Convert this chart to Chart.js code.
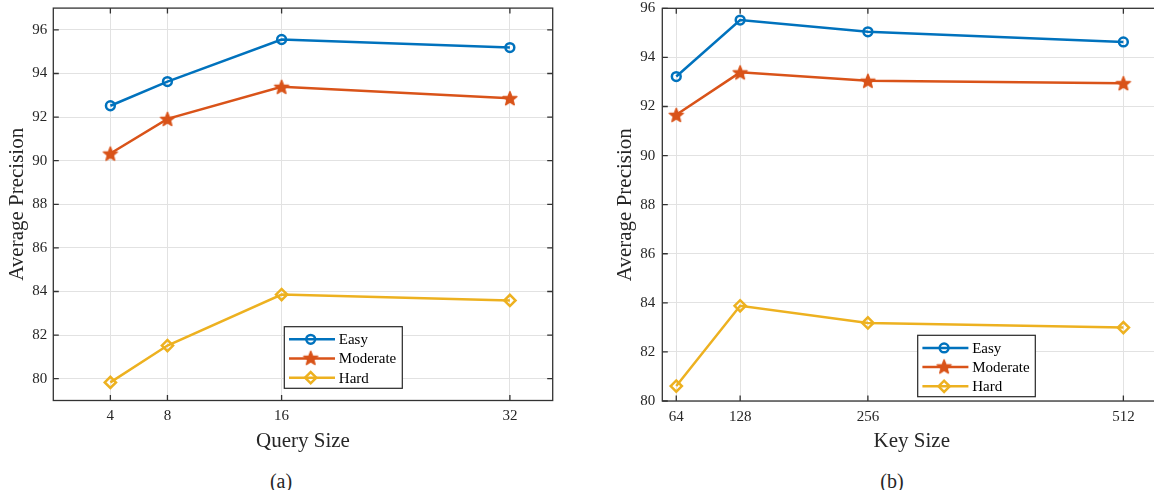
<!DOCTYPE html>
<html><head><meta charset="utf-8">
<script src="https://cdn.jsdelivr.net/npm/chart.js"></script>
<style>
html,body{margin:0;padding:0;background:#fff;width:1154px;height:490px;overflow:hidden;position:relative}
canvas{position:absolute;top:0}
.cap{position:absolute;font-family:'Liberation Serif','Times New Roman',serif;font-size:20px;color:#262626;transform:translateX(-50%);line-height:24px;white-space:nowrap}
</style></head><body>
<canvas id="ca" width="590" height="460" style="left:0px"></canvas>
<canvas id="cb" width="560" height="460" style="left:610px"></canvas>
<div class="cap" style="left:281px;top:469px">(a)</div>
<div class="cap" style="left:892px;top:469px">(b)</div>
<script>
// ---- data ----
const seriesNames = ['Easy', 'Moderate', 'Hard'];
const querySizes = [4, 8, 16, 32];
const easyQuery = [92.52, 93.63, 95.56, 95.19];
const moderateQuery = [90.33, 91.92, 93.39, 92.87];
const hardQuery = [79.83, 81.52, 83.86, 83.59];
const keySizes = [64, 128, 256, 512];
const easyKey = [93.22, 95.52, 95.04, 94.63];
const moderateKey = [91.66, 93.39, 93.05, 92.95];
const hardKey = [80.61, 83.88, 83.18, 82.99];
const yTicksQuery = [80, 82, 84, 86, 88, 90, 92, 94, 96];
const yTicksKey = [80, 82, 84, 86, 88, 90, 92, 94, 96];

const FONT = "'Liberation Serif','Times New Roman',serif";
const TXT = '#262626';
const COLORS = ['#0072BD', '#D95319', '#EDB120'];

function makeStar(color) {
  const c = document.createElement('canvas');
  c.width = 20; c.height = 20;
  const g = c.getContext('2d');
  g.beginPath();
  for (let i = 0; i < 10; i++) {
    const r = i % 2 ? 3.1 : 7.3;
    const a = -Math.PI / 2 + i * Math.PI / 5;
    g.lineTo(10 + r * Math.cos(a), 10.7 + r * Math.sin(a));
  }
  g.closePath();
  g.fillStyle = color; g.fill();
  g.strokeStyle = color; g.lineWidth = 1.5; g.lineJoin = 'round'; g.stroke();
  return c;
}
const starImg = makeStar(COLORS[1]);

function makeDatasets(xs, ys) {
  const styles = [
    {pointStyle: 'circle', pointRadius: 4.4, pointBorderWidth: 2.5},
    {pointStyle: starImg, pointRadius: 7, pointBorderWidth: 1},
    {pointStyle: 'rectRot', pointRadius: 5.6, pointBorderWidth: 2.5}
  ];
  return ys.map((arr, k) => Object.assign({
    label: seriesNames[k],
    data: xs.map((x, i) => ({x: x, y: arr[i]})),
    borderColor: COLORS[k],
    pointBorderColor: COLORS[k],
    pointBackgroundColor: 'rgba(0,0,0,0)',
    backgroundColor: 'rgba(0,0,0,0)',
    borderWidth: 2.5,
    tension: 0,
    clip: false
  }, styles[k]));
}

function drawMarker(ctx, k, x, y) {
  ctx.save();
  ctx.strokeStyle = COLORS[k];
  ctx.lineWidth = 2.5;
  if (k === 0) {
    ctx.beginPath(); ctx.arc(x, y, 4.4, 0, Math.PI * 2); ctx.stroke();
  } else if (k === 1) {
    ctx.drawImage(starImg, x - 10, y - 10.7);
  } else {
    const r = 5.6;
    ctx.beginPath();
    ctx.moveTo(x - r, y); ctx.lineTo(x, y - r); ctx.lineTo(x + r, y); ctx.lineTo(x, y + r);
    ctx.closePath(); ctx.stroke();
  }
  ctx.restore();
}

const framePlugin = {
  id: 'frame',
  beforeDatasetsDraw(chart) {
    const {ctx, chartArea: a, scales} = chart;
    ctx.save();
    ctx.strokeStyle = '#333333';
    ctx.lineWidth = 1.3;
    ctx.strokeRect(a.left, a.top, a.right - a.left, a.bottom - a.top);
    const tl = 5.5;
    ctx.beginPath();
    scales.x.ticks.forEach(t => {
      const px = scales.x.getPixelForValue(t.value);
      ctx.moveTo(px, a.bottom); ctx.lineTo(px, a.bottom - tl);
      ctx.moveTo(px, a.top); ctx.lineTo(px, a.top + tl);
    });
    scales.y.ticks.forEach(t => {
      const py = scales.y.getPixelForValue(t.value);
      ctx.moveTo(a.left, py); ctx.lineTo(a.left + tl, py);
      ctx.moveTo(a.right, py); ctx.lineTo(a.right - tl, py);
    });
    ctx.stroke();
    ctx.restore();
  },
  afterDatasetsDraw(chart, args, opts) {
    const b = opts.box;
    if (!b) return;
    const ctx = chart.ctx;
    ctx.save();
    ctx.fillStyle = '#fff';
    ctx.fillRect(b.x, b.y, b.w, b.h);
    ctx.strokeStyle = '#262626';
    ctx.lineWidth = 1.2;
    ctx.strokeRect(b.x, b.y, b.w, b.h);
    ctx.font = '15px ' + FONT;
    ctx.textBaseline = 'middle';
    chart.data.datasets.forEach((ds, k) => {
      const y = b.y + 12.6 + k * 19.2;
      ctx.strokeStyle = COLORS[k];
      ctx.lineWidth = 2.5;
      ctx.beginPath(); ctx.moveTo(b.x + 4.7, y); ctx.lineTo(b.x + 50.7, y); ctx.stroke();
      drawMarker(ctx, k, b.x + 26.4, y);
      ctx.fillStyle = '#000';
      ctx.fillText(ds.label, b.x + 54.5, y + 1);
    });
    ctx.restore();
  }
};

function makeChart(id, cfg) {
  const xs = cfg.xs;
  return new Chart(document.getElementById(id), {
    type: 'line',
    data: {datasets: makeDatasets(xs, cfg.ys)},
    plugins: [framePlugin],
    options: {
      responsive: false,
      animation: false,
      events: [],
      layout: {padding: {left: 0, top: cfg.top, right: cfg.padRight, bottom: 0}},
      plugins: {
        legend: {display: false},
        tooltip: {enabled: false},
        frame: {box: cfg.legendBox}
      },
      scales: {
        x: {
          type: 'linear',
          min: cfg.xMin, max: cfg.xMax,
          afterBuildTicks: s => { s.ticks = xs.map(v => ({value: v})); },
          afterFit: s => { s.height = cfg.xAxisH; s.paddingLeft = 0; s.paddingRight = 0; s.paddingTop = 0; s.paddingBottom = 0; },
          grid: {color: '#e2e2e2', lineWidth: 1, drawTicks: false},
          border: {display: false},
          ticks: {autoSkip: false, maxRotation: 0, padding: 7, color: TXT, font: {family: FONT, size: 15}},
          title: {display: true, text: cfg.xTitle, color: TXT, font: {family: FONT, size: 21}, padding: {top: 0, bottom: 5.7}}
        },
        y: {
          type: 'linear',
          min: cfg.yMin, max: cfg.yMax,
          afterBuildTicks: s => { s.ticks = cfg.yTicks.map(v => ({value: v})); },
          afterFit: s => { s.width = cfg.yAxisW; s.paddingLeft = 0; s.paddingRight = 0; s.paddingTop = 0; s.paddingBottom = 0; },
          grid: {color: '#e2e2e2', lineWidth: 1, drawTicks: false},
          border: {display: false},
          ticks: {padding: cfg.yTickPad, color: TXT, font: {family: FONT, size: 15}},
          title: {display: true, text: 'Average Precision', color: TXT, font: {family: FONT, size: 21}, padding: {top: cfg.yTitlePad, bottom: 0}}
        }
      }
    }
  });
}

makeChart('ca', {
  xs: querySizes,
  ys: [easyQuery, moderateQuery, hardQuery],
  xMin: 0, xMax: 35, yMin: 79, yMax: 97, yTicks: yTicksQuery,
  top: 8, padRight: 590 - 552.7, xAxisH: 460 - 400.5, yAxisW: 53.3,
  yTickPad: 6, yTitlePad: 4.4, xTitle: 'Query Size',
  legendBox: {x: 284.3, y: 326.7, w: 118, h: 61.6}
});

makeChart('cb', {
  xs: keySizes,
  ys: [easyKey, moderateKey, hardKey],
  xMin: 50, xMax: 550, yMin: 80, yMax: 96, yTicks: yTicksKey,
  top: 8.3, padRight: 560 - 1161.3 + 610, xAxisH: 460 - 401, yAxisW: 52.3,
  yTickPad: 7, yTitlePad: 2.4, xTitle: 'Key Size',
  legendBox: {x: 917.7 - 610, y: 335.3, w: 117.6, h: 61.4}
});
</script>
</body></html>
